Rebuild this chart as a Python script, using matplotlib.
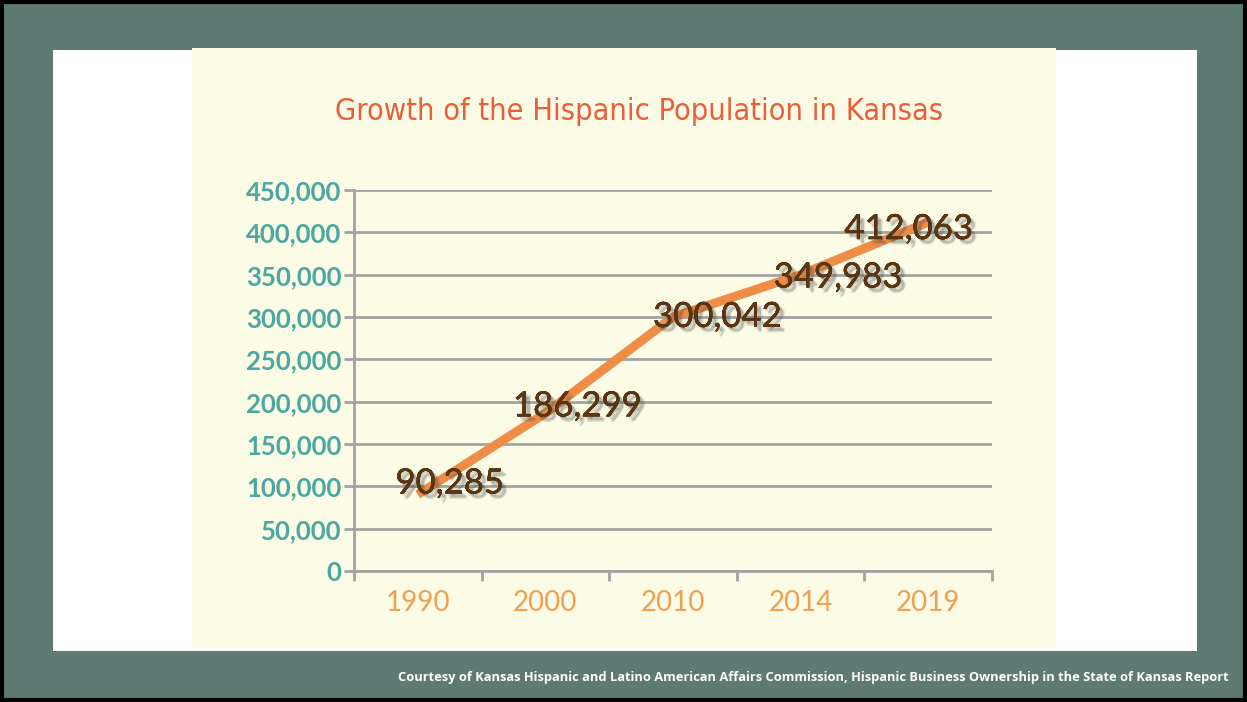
import matplotlib.pyplot as plt
import matplotlib.patheffects as pe
from matplotlib.patches import Rectangle
from matplotlib.ticker import FuncFormatter

years = ['1990', '2000', '2010', '2014', '2019']
population = [90285, 186299, 300042, 349983, 412063]
label_offsets = [(23, 8), (23, 5), (32, 0), (27, -2), (-14, -5)]

W, H = 1247, 702
fig = plt.figure(figsize=(W / 100, H / 100), dpi=100)
fig.patch.set_facecolor('#5f7a73')

def px_rect(x0, y0, x1, y1, **kw):
    r = Rectangle((x0 / W, 1 - y1 / H), (x1 - x0) / W, (y1 - y0) / H,
                  transform=fig.transFigure, **kw)
    fig.add_artist(r)

px_rect(53, 50, 1197, 651, facecolor='white', edgecolor='none', zorder=0)
px_rect(192, 48, 1056, 648, facecolor='#fbfbe6', edgecolor='none', zorder=0)
px_rect(2, 2, W - 2, H - 2, facecolor='none', edgecolor='black', linewidth=3, zorder=5)

ax = fig.add_axes([354 / W, 1 - 571 / H, (992 - 354) / W, (571 - 190) / H])
ax.set_facecolor('none')
x = list(range(len(years)))
ax.plot(x, population, color='#ef8c45', linewidth=6.5, solid_capstyle='butt', zorder=3)

# soft shadow made from a few faint offset copies
shadow = [pe.withSimplePatchShadow(offset=o, shadow_rgbFace='#444444', alpha=0.13)
          for o in [(1, -1), (2, -2), (3, -3), (4, -3), (3, -4)]]

for xi, v, (dx, dy) in zip(x, population, label_offsets):
    ax.annotate(f'{v:,}', (xi, v), xytext=(dx, dy), textcoords='offset points',
                ha='center', va='center', fontsize=25, family='Lato',
                color='#5a3514', zorder=4, path_effects=shadow + [pe.Normal()])

ax.set_xlim(-0.5, len(years) - 0.5)
ax.set_ylim(0, 450000)
ax.set_yticks(range(0, 450001, 50000))
ax.yaxis.set_major_formatter(FuncFormatter(lambda v, p: f'{int(v):,}'))
ax.grid(axis='y', color='#a3a3a3', linewidth=2)
ax.set_axisbelow(True)

ax.set_xticks(x)
ax.set_xticklabels(years)
ax.set_xticks([i - 0.5 for i in range(len(years) + 1)], minor=True)
ax.tick_params(axis='x', which='major', length=0, pad=14, labelsize=20, labelcolor='#f0a050')
ax.tick_params(axis='x', which='minor', length=7, width=2, color='#a3a3a3')
ax.tick_params(axis='y', length=7, width=2, color='#a3a3a3', pad=2, labelsize=18.5, labelcolor='#4aa8a0')
for lbl in ax.get_yticklabels():
    lbl.set_family('Lato')
    lbl.set_weight('bold')
for lbl in ax.get_xticklabels():
    lbl.set_family('Lato')

for s in ['top', 'right']:
    ax.spines[s].set_visible(False)
for s in ['left', 'bottom']:
    ax.spines[s].set_color('#a3a3a3')
    ax.spines[s].set_linewidth(2)

fig.text(639 / W, 1 - 112 / H, 'Growth of the Hispanic Population in Kansas',
         ha='center', va='center', fontsize=22, color='#ea5f3a',
         family='DejaVu Sans', stretch='condensed')

fig.text(1229 / W, 1 - 677 / H,
         'Courtesy of Kansas Hispanic and Latino American Affairs Commission, Hispanic Business Ownership in the State of Kansas Report',
         ha='right', va='center', fontsize=9.3, color='white', weight='bold', family='Open Sans')

fig.savefig('out.png', dpi=100, facecolor=fig.get_facecolor())
